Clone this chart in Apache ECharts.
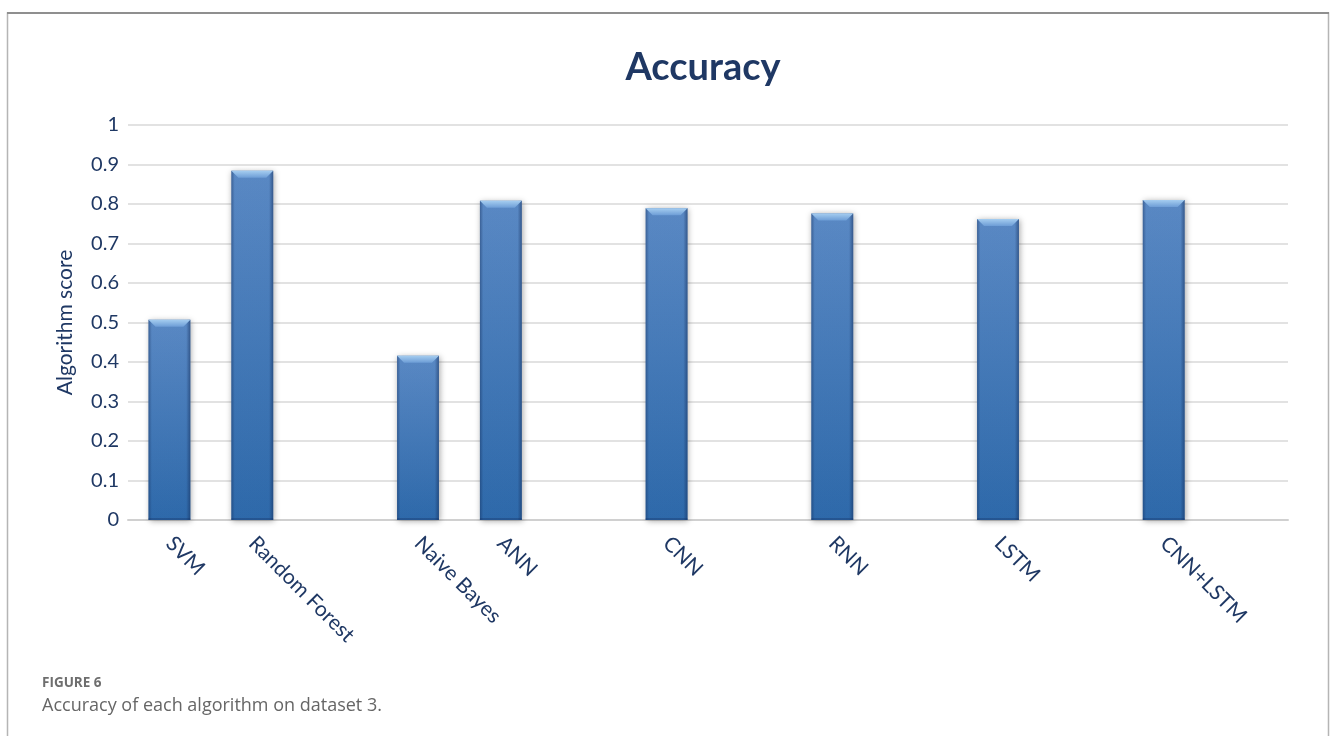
<!DOCTYPE html>
<html>
<head>
<meta charset="utf-8">
<script src="https://cdn.jsdelivr.net/npm/echarts@6/dist/echarts.min.js"></script>
<style>
  html, body { margin: 0; padding: 0; background: #fff; }
  #chart { width: 1331px; height: 736px; }
</style>
</head>
<body>
<div id="chart"></div>
<script>
// Algorithms (empty slots keep the spacing between groups)
const categories = ['SVM', 'Random Forest', '', 'Naive Bayes', 'ANN', '', 'CNN', '', 'RNN', '', 'LSTM', '', 'CNN+LSTM', ''];
// Accuracy per algorithm, listed against the category index it sits on
const barIndex = [0, 1, 3, 4, 6, 8, 10, 12];
const accuracy = [0.507, 0.884, 0.416, 0.808, 0.789, 0.776, 0.762, 0.810];
const yTicks = [0, 0.1, 0.2, 0.3, 0.4, 0.5, 0.6, 0.7, 0.8, 0.9, 1];

const navy = '#1f3864';
const chart = echarts.init(document.getElementById('chart'));

// Bevelled column: gradient body, dark side edges, light top facet
function renderBevelBar(params, api) {
  const idx = api.value(0);
  const val = api.value(1);
  const top = api.coord([idx, val]);
  const base = api.coord([idx, 0]);
  const w = api.size([1, 0])[0] * 0.505;
  const x0 = top[0] - w / 2, x1 = top[0] + w / 2;
  const y0 = top[1], y1 = base[1];
  const h = y1 - y0;
  const b = 7;
  return {
    type: 'group',
    children: [
      {
        type: 'rect',
        shape: { x: x0, y: y0, width: w, height: h },
        style: {
          fill: new echarts.graphic.LinearGradient(0, 0, 0, 1, [
            { offset: 0, color: '#5d8dc9' },
            { offset: 1, color: '#2f6cae' }
          ]),
          shadowBlur: 6,
          shadowColor: 'rgba(0,0,0,0.35)',
          shadowOffsetX: 1,
          shadowOffsetY: 1
        }
      },
      {
        type: 'rect',
        shape: { x: x0, y: y0, width: w, height: h },
        style: {
          fill: new echarts.graphic.LinearGradient(0, 0, 1, 0, [
            { offset: 0, color: 'rgba(20,45,90,0.45)' },
            { offset: 0.08, color: 'rgba(20,45,90,0.05)' },
            { offset: 0.9, color: 'rgba(20,45,90,0.05)' },
            { offset: 1, color: 'rgba(20,45,90,0.55)' }
          ])
        }
      },
      {
        type: 'polygon',
        shape: { points: [[x0, y0], [x1, y0], [x1 - b, y0 + b], [x0 + b, y0 + b]] },
        style: {
          fill: new echarts.graphic.LinearGradient(0, 0, 0, 1, [
            { offset: 0, color: '#a5cdf0' },
            { offset: 1, color: '#6d9dd6' }
          ])
        }
      },
      {
        type: 'rect',
        shape: { x: x0, y: y1 - 2, width: w, height: 2 },
        style: { fill: 'rgba(20,50,100,0.35)' }
      }
    ]
  };
}

chart.setOption({
  animation: false,
  backgroundColor: '#fff',
  title: {
    text: 'Accuracy',
    left: 698,
    textAlign: 'center',
    top: 44,
    textStyle: { fontFamily: 'Lato', fontWeight: 'bold', fontSize: 38, color: navy }
  },
  grid: { left: 128, right: 43, top: 125, bottom: 216 },
  xAxis: {
    type: 'category',
    data: categories,
    axisTick: { show: false },
    axisLine: { lineStyle: { color: '#d0d0d0', width: 2 } },
    axisLabel: {
      interval: 0,
      rotate: -45,
      margin: 20,
      fontFamily: 'Lato',
      fontSize: 21,
      color: navy
    }
  },
  yAxis: {
    type: 'value',
    min: yTicks[0],
    max: yTicks[yTicks.length - 1],
    interval: 0.1,
    name: 'Algorithm score',
    nameLocation: 'middle',
    nameGap: 52,
    nameTextStyle: { fontFamily: 'Lato', fontSize: 21, color: navy },
    axisLine: { show: false },
    axisTick: { show: false },
    axisLabel: {
      margin: 9,
      fontFamily: 'Lato',
      fontSize: 20,
      color: navy,
      formatter: v => String(Math.round(v * 10) / 10)
    },
    splitLine: { lineStyle: { color: '#d9d9d9', width: 1.5 } }
  },
  series: [{
    type: 'custom',
    renderItem: renderBevelBar,
    encode: { x: 0, y: 1 },
    data: barIndex.map((c, i) => [c, accuracy[i]]),
    z: 3
  }],
  graphic: [
    {
      type: 'rect',
      shape: { x: 7.5, y: 13, width: 1321, height: 740 },
      style: { fill: 'none', stroke: '#b5b5b5', lineWidth: 1.5 },
      z: -1
    },
    {
      type: 'line',
      shape: { x1: 7, y1: 13, x2: 1329, y2: 13 },
      style: { stroke: '#8f8f8f', lineWidth: 2 },
      z: -1
    },
    {
      type: 'text',
      left: 42,
      top: 676,
      style: { text: 'FIGURE 6', fontFamily: 'Open Sans', fontWeight: 'bold', fontSize: 13.5, fill: '#6e6e6e' }
    },
    {
      type: 'text',
      left: 42,
      top: 697,
      style: { text: 'Accuracy of each algorithm on dataset 3.', fontFamily: 'Open Sans', fontSize: 18, fill: '#666666' }
    }
  ]
});
</script>
</body>
</html>
